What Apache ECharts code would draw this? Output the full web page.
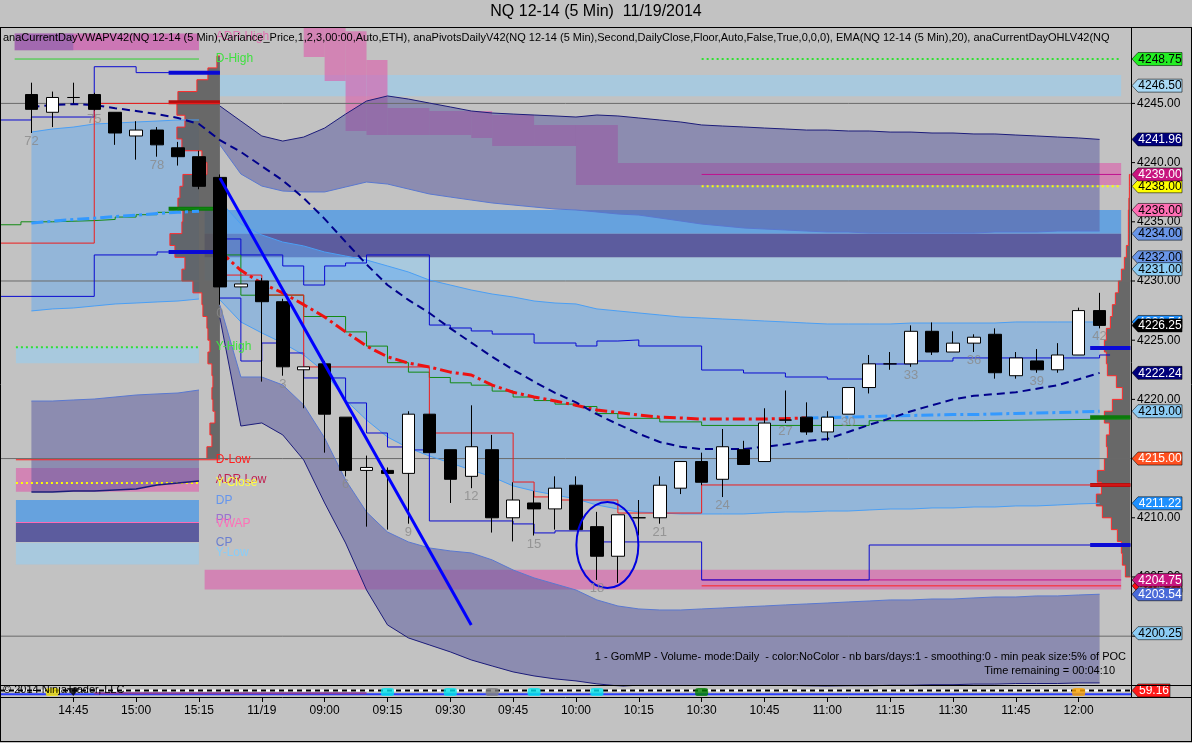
<!DOCTYPE html>
<html>
<head>
<meta charset="utf-8">
<script src="https://cdn.jsdelivr.net/npm/echarts@6/dist/echarts.min.js"></script>
<style>
html,body{margin:0;padding:0;background:#c2c2c2;overflow:hidden}
#chart{width:1192px;height:743px}
</style>
</head>
<body>
<div id="chart"></div>
<script>
// ================= DATA =================
const categories = ['14:30','14:35','14:40','14:45','14:50','14:55','15:00','15:05','15:10','15:15',
 '08:35','08:40','08:45','08:50','08:55',
 '09:00','09:05','09:10','09:15','09:20','09:25','09:30','09:35','09:40','09:45','09:50','09:55',
 '10:00','10:05','10:10','10:15','10:20','10:25','10:30','10:35','10:40','10:45','10:50','10:55',
 '11:00','11:05','11:10','11:15','11:20','11:25','11:30','11:35','11:40','11:45','11:50','11:55',
 '12:00','12:05','12:10'];
const tickCategories = ['14:45','15:00','15:15','08:45','09:00','09:15','09:30','09:45','10:00','10:15','10:30','10:45','11:00','11:15','11:30','11:45','12:00'];
const tickTexts      = ['14:45','15:00','15:15','11/19','09:00','09:15','09:30','09:45','10:00','10:15','10:30','10:45','11:00','11:15','11:30','11:45','12:00'];

// [open, close, low, high]  previous session bars 72..80
const prevCandles = [
 [4245.75,4244.50,4242.50,4246.75],[4244.25,4245.50,4243.00,4246.00],[4245.50,4245.50,4245.00,4246.75],
 [4245.75,4244.50,4244.40,4245.90],[4244.25,4242.50,4241.50,4244.25],[4242.25,4242.75,4240.25,4243.50],
 [4242.75,4241.50,4240.50,4243.00],[4241.25,4240.50,4239.75,4241.75],[4240.50,4238.00,4237.75,4241.00]
];
// today bars 0..42
const todayCandles = [
 [4238.75,4229.50,4228.00,4239.00],[4229.50,4229.75,4229.50,4229.75],[4230.00,4228.25,4221.50,4230.25],
 [4228.25,4222.75,4222.00,4228.50],[4222.50,4222.75,4219.25,4222.75],[4223.00,4218.75,4215.50,4223.25],
 [4218.50,4214.00,4213.50,4218.50],[4214.00,4214.25,4209.25,4215.25],[4214.00,4213.75,4209.00,4214.25],
 [4213.75,4218.75,4209.50,4219.00],[4218.75,4215.50,4215.50,4218.75],[4215.75,4213.25,4211.25,4215.75],
 [4213.50,4216.00,4212.50,4219.50],[4215.75,4210.00,4208.75,4217.00],[4210.00,4211.50,4208.00,4213.00],
 [4211.25,4210.75,4208.50,4212.25],[4210.75,4212.50,4209.00,4213.50],[4212.75,4209.00,4209.00,4213.50],
 [4209.25,4206.75,4204.75,4210.50],[4206.75,4210.25,4204.50,4210.25],[4210.00,4210.00,4208.50,4211.50],
 [4210.00,4212.75,4209.50,4213.50],[4212.50,4214.75,4212.00,4214.75],[4214.75,4213.00,4212.75,4215.50],
 [4213.25,4216.00,4211.75,4217.50],[4215.75,4214.50,4214.50,4216.50],[4214.75,4218.00,4214.75,4219.25],
 [4218.25,4218.25,4218.00,4220.75],[4218.50,4217.25,4217.00,4219.75],[4217.25,4218.50,4216.50,4219.00],
 [4218.75,4221.00,4218.75,4221.00],[4221.00,4223.00,4220.50,4223.75],[4223.00,4223.00,4222.50,4224.00],
 [4223.00,4225.75,4222.75,4226.25],[4225.75,4224.00,4223.75,4226.50],[4224.00,4224.75,4224.00,4225.75],
 [4224.75,4225.25,4224.00,4225.50],[4225.50,4222.25,4221.75,4226.00],[4222.00,4223.50,4221.75,4224.00],
 [4223.25,4222.50,4222.25,4224.25],[4222.50,4223.75,4222.25,4224.75],[4223.75,4227.50,4223.75,4227.75],
 [4227.50,4226.25,4226.00,4229.00]
];
const barNumberCats = [1,4,7,10,13,16,19,22,25,28,31,34,37,40,43,46,49,52];
const barNumberTexts = ['72','75','78','0','3','6','9','12','15','18','21','24','27','30','33','36','39','42'];

// EMA(20)
const emaPrev = [4244.70,4244.86,4244.95,4244.86,4244.60,4244.36,4244.10,4243.77,4243.26];
const emaToday = [4241.90,4240.90,4239.70,4238.50,4237.00,4235.25,4233.30,4231.40,4229.66,4228.40,
 4227.30,4226.00,4224.80,4223.60,4222.50,4221.50,4220.55,4219.75,4218.75,4217.90,
 4217.10,4216.40,4216.00,4215.80,4215.80,4215.80,4216.00,4216.20,4216.50,4216.65,
 4217.25,4217.85,4218.40,4219.00,4219.50,4220.00,4220.30,4220.45,4220.60,4220.90,
 4221.20,4221.70,4222.24];
// VWAP
const vwapPrev = [4234.90,4235.05,4235.20,4235.30,4235.45,4235.55,4235.70,4235.80,4235.90];
const vwapToday = [4232.50,4230.90,4229.80,4229.00,4228.00,4226.96,4225.70,4224.50,4223.60,4223.07,
 4222.74,4222.30,4222.06,4221.20,4220.60,4220.20,4219.87,4219.50,4219.10,4218.90,
 4218.68,4218.50,4218.43,4218.34,4218.34,4218.34,4218.34,4218.38,4218.43,4218.47,
 4218.50,4218.55,4218.60,4218.64,4218.68,4218.72,4218.72,4218.77,4218.81,4218.85,
 4218.89,4218.94,4219.00];
const vwapTurnBar = 28;
// VWAP deviation bands (today)
const upper3 = [4244.78,4243.51,4242.25,4241.82,4242.16,4242.92,4244.10,4245.20,4245.63,4245.37,
 4245.03,4244.70,4244.36,4244.19,4244.10,4244.02,4243.94,4243.85,4244.02,4243.94,
 4243.77,4243.60,4243.43,4243.18,4243.09,4243.01,4242.92,4242.84,4242.75,4242.75,
 4242.67,4242.67,4242.58,4242.58,4242.50,4242.50,4242.42,4242.42,4242.33,4242.25,
 4242.16,4242.08,4241.96];
const upper2 = [4241.49,4239.04,4238.02,4237.60,4237.52,4237.52,4237.94,4238.36,4238.19,4237.77,
 4237.35,4237.09,4236.84,4236.59,4236.42,4236.25,4236.08,4236.00,4235.83,4235.66,
 4235.57,4235.32,4235.07,4234.81,4234.65,4234.48,4234.39,4234.31,4234.22,4234.14,
 4234.14,4234.05,4234.05,4234.05,4234.05,4234.05,4234.05,4234.14,4234.14,4234.14,
 4234.22,4234.22,4234.22];
const upper1 = [4236.76,4234.81,4233.89,4233.29,4232.96,4232.45,4232.11,4231.77,4231.27,4230.76,
 4230.08,4229.66,4229.24,4228.90,4228.65,4228.31,4228.14,4228.06,4227.64,4227.47,
 4227.30,4227.13,4226.96,4226.88,4226.79,4226.71,4226.62,4226.54,4226.45,4226.37,
 4226.37,4226.37,4226.37,4226.45,4226.45,4226.45,4226.45,4226.45,4226.54,4226.54,
 4226.54,4226.54,4226.54];
const lower1 = [4228.40,4226.54,4225.61,4224.76,4223.75,4222.31,4219.95,4218.26,4216.82,4215.90,
 4215.22,4214.63,4214.04,4213.45,4212.69,4212.26,4211.93,4211.59,4211.08,4210.74,
 4210.49,4210.41,4210.32,4210.32,4210.32,4210.32,4210.41,4210.49,4210.49,4210.57,
 4210.57,4210.66,4210.74,4210.74,4210.83,4210.83,4210.91,4210.91,4211.00,4211.00,
 4211.08,4211.17,4211.22];
const lower2 = [4227.97,4221.89,4221.89,4221.22,4219.53,4216.74,4213.19,4210.49,4208.80,4207.96,
 4207.45,4207.20,4207.03,4206.44,4205.59,4204.92,4204.41,4203.90,4203.06,4202.55,
 4202.30,4202.21,4202.21,4202.30,4202.38,4202.47,4202.55,4202.64,4202.72,4202.80,
 4202.89,4202.97,4203.06,4203.06,4203.14,4203.14,4203.23,4203.31,4203.31,4203.40,
 4203.40,4203.48,4203.54];
const lower3 = [4226.88,4217.75,4218.01,4217.00,4214.88,4211.25,4207.87,4203.90,4200.95,4199.85,
 4199.26,4198.67,4197.99,4197.48,4196.98,4196.64,4196.39,4196.22,4195.97,4195.80,
 4195.60,4195.55,4195.50,4195.50,4195.50,4195.55,4195.60,4195.65,4195.70,4195.75,
 4195.80,4195.80,4195.85,4195.85,4195.90,4195.90,4195.95,4195.95,4196.00,4196.00,
 4196.00,4196.05,4196.05];
// previous session bands
const prevUpper1 = [4242.58,4242.84,4243.00,4243.26,4243.34,4243.43,4243.51,4243.60,4243.60];
const prevLower1 = [4227.47,4227.64,4227.72,4227.89,4228.06,4228.14,4228.23,4228.31,4228.48];
const prevLower2 = [4219.86,4219.86,4219.95,4220.03,4220.20,4220.37,4220.46,4220.54,4220.79];
const prevLower3 = [4212.18,4212.18,4212.26,4212.26,4212.35,4212.43,4212.77,4212.94,4213.11];

// step lines  [bar position, price]
const greenPrevSteps = [[-0.5,4234.75],[0.5,4235.0],[2,4235.1],[4,4235.2],[5,4235.4],[6,4235.6],[7,4235.8],[8,4236.1],[10,4236.1]];
const greenTodaySteps = [[10,4232.2],[11,4228.8],[14,4227.0],[16,4225.7],[17,4224.5],[18,4223.1],[19,4222.3],[20,4221.85],[21,4221.4],[22,4221.2],[23,4220.7],[24,4220.2],[25,4219.9],[26,4219.6],[27,4219.4],[28,4218.8],[29,4218.4],[31,4218.1],[33,4217.8],[41,4218.2],[46,4218.35],[53.47,4218.35]];
const navyUpperToday = [[10,4233.55],[11,4232.2],[13,4231.27],[14,4229.66],[15,4231.27],[16,4231.52],[17,4232.2],[20,4226.28],[21,4226.03],[22,4225.78],[23,4225.52],[25,4224.76],[27,4224.51],[28,4224.93],[29,4225.02],[30,4224.51],[33,4222.48],[35,4222.23],[37,4221.89],[39,4221.72],[41,4222.99],[43,4223.24],[45,4223.5],[52,4223.75],[52.5,4223.75]];
const navyLowerToday = [[10,4228.56],[11,4223.24],[12,4224.76],[13,4223.92],[14,4221.81],[16,4219.7],[17,4217.16],[18,4215.98],[19,4215.73],[20,4209.73],[24,4209.48],[25,4208.72],[26,4208.89],[28,4207.96],[33,4204.75],[41,4207.7],[53.47,4207.7]];
const redToday = [[10,4230.5],[12,4228.82],[14,4222.74],[20,4217.16],[24,4213.02],[25,4211.76],[26,4211.5],[29,4210.4],[33,4212.77],[53.47,4212.77]];
const navyHighPrev = [[-0.5,4243.6],[1,4243.85],[4,4248.1],[6,4247.6],[10,4247.6]];
const navyLowPrev = [[-0.5,4228.7],[4,4232.2],[7,4232.45],[10,4232.45]];
const redPrev = [[-0.5,4233.2],[4,4245.0],[10,4245.0]];
// value-area markers [x0, x1, price]
const thickNavy = [[7.55,10,4247.6],[7.55,10,4232.45],[51.55,53.47,4224.34],[51.55,53.47,4207.7]];
const thickRed = [[7.55,10,4245.1],[51.55,53.47,4212.77]];
const thickGreen = [[7.55,10,4236.1],[51.55,53.47,4218.5]];

// pivot zones [x0, x1, top, bottom]
const lightBlueZones = [[10,53.03,4247.4,4245.6],[9.27,53.03,4232.0,4230.0],[0.26,9.0,4224.4,4223.05],[0.26,9.0,4207.9,4206.05]];
const blueZones = [[9.27,53.03,4236.0,4234.0],[0.26,9.0,4211.5,4209.65]];
const slateZones = [[9.27,53.03,4234.0,4232.0],[0.26,9.0,4209.56,4207.96]];
const pinkZones = [[9.27,53.03,4205.6,4203.95],[0.26,9.0,4214.2,4212.2]];
// previous-session ADR high zone: x positions, top and bottom prices
const prevAdrX = [0.2, 9.0];
const prevAdrTop = [4250.9, 4250.9];
const prevAdrBottom = [4249.5, 4249.5];
const prevAdrShadeX = [0.2, 3.0];
const adrHighZone = [[14,15,4251.6,4248.92],[15,16,4251.6,4246.89],[16,17,4251.1,4242.67],[17,18,4248.67,4242.33],[18,20,4244.61,4242.33],[20,22,4244.36,4242.33],[22,23,4244.36,4242.08],[23,25,4244.02,4241.4],[25,27,4243.18,4241.4],[27,29,4243.18,4238.1],[29,53.03,4239.97,4238.1]];
// pivot lines [x0, x1, price]
const greenSolidLines = [[0.2,9.0,4248.75]];
const greenDotLines = [[33,53.03,4248.75],[0.26,9.0,4224.4]];
const magentaLines = [[33,53.03,4239.0],[33,53.03,4204.75]];
const yellowDotLines = [[33,53.03,4238.0],[0.26,9.0,4212.94]];
const redLines = [[33,53.03,4204.25],[0.26,10.0,4214.9]];
const pinkLines = [[0.26,9.0,4209.6]];
const gridLevels = [4245,4230,4215,4200];

const pivotTexts = ['ADR High','D-High','Y-High','D-Low','ADR Low','Y-Close','DP','PP','VWAP','CP','Y-Low'];
const pivotPrices = [4250.6,4248.75,4224.43,4214.88,4213.2,4212.94,4211.42,4209.8,4209.46,4207.87,4207.03];
const pivotColors = ['#e070b0','#40e040','#40e040','#ff2020','#c02050','#ffff40','#6495ed','#9a70d0','#ff70b8','#6a7fd0','#87cefa'];

// volume profiles (price row centre, volume)
const prevProfilePrices = [4248.5,4247.5,4246.5,4245.5,4244.5,4243.5,4242.5,4241.5,4240.5,4239.5,4238.5,4237.5,4236.5,4235.5,4234.5,4233.5,4232.5,4231.5,4230.5,4229.5,4228.5,4227.5,4226.5,4225.5,4224.5,4223.5,4222.5,4221.5,4220.5,4219.5,4218.5,4217.5,4216.5,4215.5];
const prevProfileVol = [3,12,23,42,43,35,43,38,18,13,37,40,42,37,38,50,45,35,38,27,18,17,13,12,10,12,8,7,8,7,5,10,8,13];
const todayProfilePrices = [4238.5,4237.5,4236.5,4235.5,4234.5,4233.5,4232.5,4231.5,4230.5,4229.5,4228.5,4227.5,4226.5,4225.5,4224.5,4223.5,4222.5,4221.5,4220.5,4219.5,4218.5,4217.5,4216.5,4215.5,4214.5,4213.5,4212.5,4211.5,4210.5,4209.5,4208.5,4207.5,4206.5,4205.5];
const todayProfileVol = [1,1,1.5,2,2,2,4,6,9,12,15,18,20,24,26,24,23,14,8,18,26,21,24,23,26,33,29,34,28,19,13,9,8,5];

// drawing objects
const trendLine = [[10,4238.7],[22,4200.95]];
const ellipseCenter = [28.5,4207.7];
const ellipseRadius = [1.48,3.63];

// right axis
const priceTicks = [4200,4205,4210,4215,4220,4225,4230,4235,4240,4245];
const tagPrices = [4248.75,4246.50,4241.96,4238.00,4239.00,4236.00,4234.00,4232.00,4231.00,4226.54,4226.25,4222.24,4219.00,4215.00,4211.22,4204.25,4203.54,4204.75,4200.25];
const tagFills = ['#22ee22','#a8d8f4','#00007a','#ffff00','#c8157f','#ff6eb4','#6a96e8','#6a96e8','#8cccf4','#1e90ff','#000000','#00007a','#8cccf4','#ff5020','#1e90ff','#ff1010','#4a6ad8','#c8157f','#8cccf4'];
const tagTextColors = ['#000','#000','#fff','#000','#fff','#000','#000','#000','#000','#fff','#fff','#fff','#000','#fff','#fff','#fff','#fff','#fff','#000'];

// lower indicator panel
const indicatorValue = 59.16;
const indicatorBase = 25;
const markerCats = [2,3,18,21,23,25,28,33,51];
const markerColors = ['#ffee00','#000000','#00e5ee','#00e5ee','#808080','#00e5ee','#00e5ee','#008000','#ffa500'];

// ================= BUILD =================
const FONT = '"Liberation Sans", Arial, sans-serif';
const NCAT = categories.length, PREV0 = 1, TODAY0 = 10;
function padPrev(arr){ const o = new Array(NCAT).fill(null); arr.forEach((v,i)=>{o[PREV0+i]=v;}); return o; }
function padToday(arr, from, to){ const o = new Array(NCAT).fill(null); for(let i=from;i<=to;i++) o[TODAY0+i]=arr[i]; return o; }
const prevX = prevCandles.map((_,i)=>PREV0+i);
const todayX = todayCandles.map((_,i)=>TODAY0+i);

const candleData = categories.map((c,i)=>{
  if(i>=PREV0 && i<PREV0+prevCandles.length) return prevCandles[i-PREV0];
  if(i>=TODAY0 && i<TODAY0+todayCandles.length) return todayCandles[i-TODAY0];
  return '-';
});
const allLows = categories.map((c,i)=> Array.isArray(candleData[i]) ? candleData[i][2] : null);

function custom(opts, render){
  return Object.assign({type:'custom', xAxisIndex:1, yAxisIndex:0, silent:true, clip:true, data:[[0,4220]], renderItem:render}, opts);
}
function zoneSeries(rects, fill, z){
  return custom({z, clip:false}, (p, api)=>({type:'group', children: rects.map(r=>{
    const a = api.coord([r[0], Math.min(r[2], 4251.37)]);
    const b = api.coord([r[1], r[3]]);
    return {type:'rect', shape:{x:Math.min(a[0],b[0]), y:Math.min(a[1],b[1]), width:Math.abs(b[0]-a[0]), height:Math.abs(b[1]-a[1])}, style:{fill}};
  })}));
}
function segSeries(segs, stroke, width, dash, z){
  return custom({z}, (p, api)=>({type:'group', children: segs.map(s=>{
    const a = api.coord([s[0], s[2]]);
    const b = api.coord([s[1], s[2]]);
    return {type:'line', shape:{x1:a[0], y1:a[1], x2:b[0], y2:b[1]}, style:{stroke, lineWidth:width, lineDash:dash||null}};
  })}));
}
function bandSeries(xs, up, lo, fill, z){
  return custom({z}, (p, api)=>{
    const pts = [];
    for(let i=0;i<xs.length;i++) pts.push(api.coord([xs[i], up[i]]));
    for(let i=xs.length-1;i>=0;i--) pts.push(api.coord([xs[i], lo[i]]));
    return {type:'polygon', shape:{points:pts}, style:{fill}};
  });
}
function lineCat(data, color, width, type, z){
  return {type:'line', xAxisIndex:0, yAxisIndex:0, data, showSymbol:false, symbol:'none', silent:true, z,
    connectNulls:false, lineStyle:{color, width, type:type||'solid'}, animation:false};
}
function stepLine(points, color, width, z){
  return {type:'line', xAxisIndex:1, yAxisIndex:0, data:points, step:'end', showSymbol:false, symbol:'none', silent:true, z,
    lineStyle:{color, width}};
}
function profileSeries(prices, vols, baseX, pxPerVol, z){
  return custom({z, clip:false}, (p, api)=>{
    const bx = api.coord([baseX, prices[0]])[0];
    const edge = [];
    prices.forEach((pr,i)=>{
      const yt = api.coord([baseX, pr+0.5])[1], yb = api.coord([baseX, pr-0.5])[1];
      const x = bx - vols[i]*pxPerVol;
      edge.push([x,yt],[x,yb]);
    });
    const poly = [[bx, edge[0][1]]].concat(edge, [[bx, edge[edge.length-1][1]]]);
    return {type:'group', children:[
      {type:'polygon', shape:{points:poly}, style:{fill:'rgba(88,88,88,0.85)'}},
      {type:'polyline', shape:{points:poly}, style:{stroke:'#ff2a2a', lineWidth:1, fill:'none'}}
    ]};
  });
}

const C_LIGHT = 'rgba(150,205,240,0.6)';
const C_BLUE = 'rgba(40,140,240,0.6)';
const C_SLATE = 'rgba(70,70,150,0.82)';
const C_PINK = 'rgba(220,90,170,0.6)';
const C_SIGMA1 = 'rgba(100,170,240,0.5)';
const C_SIGMA3 = 'rgba(90,90,160,0.52)';

const series = [];
// zones
series.push(zoneSeries(lightBlueZones, C_LIGHT, 1));
series.push(zoneSeries(blueZones, C_BLUE, 1));
series.push(zoneSeries(slateZones, C_SLATE, 1));
series.push(zoneSeries(pinkZones, C_PINK, 1));
series.push(zoneSeries(adrHighZone, C_PINK, 1));
series.push(bandSeries(prevAdrX, prevAdrTop, prevAdrBottom, 'rgba(205,110,180,0.9)', 2));
series.push(bandSeries(prevAdrShadeX, prevAdrTop, prevAdrBottom, 'rgba(110,90,170,0.45)', 2));
// bands
series.push(bandSeries(todayX, upper1, lower1, C_SIGMA1, 2));
series.push(bandSeries(todayX, upper3, upper2, C_SIGMA3, 2));
series.push(bandSeries(todayX, lower2, lower3, C_SIGMA3, 2));
series.push(bandSeries(prevX, prevUpper1, prevLower1, C_SIGMA1, 2));
series.push(bandSeries(prevX, prevLower2, prevLower3, C_SIGMA3, 2));
// profiles
series.push(profileSeries(prevProfilePrices, prevProfileVol, 10, 1, 3));
series.push(profileSeries(todayProfilePrices, todayProfileVol, 53.47, 1, 3));
// grid levels
series.push(segSeries(gridLevels.map(v=>[-0.5,53.5,v]), '#6a6a6a', 1, null, 4));
// pivot lines
series.push(segSeries(greenSolidLines, '#30d030', 1, null, 4));
series.push(segSeries(greenDotLines, '#30e030', 2, [2,3], 4));
series.push(segSeries(magentaLines, '#c0108f', 1, null, 4));
series.push(segSeries(yellowDotLines, '#ffff00', 2, [2,3], 4));
series.push(segSeries(redLines, '#ff2020', 1, null, 4));
series.push(segSeries(pinkLines, '#ff69b4', 1, null, 4));
// band edges
series.push(lineCat(padToday(upper3,0,42), '#1c1c7a', 1, 'solid', 4));
series.push(lineCat(padToday(upper2,0,42), '#5a78d0', 1, 'solid', 4));
series.push(lineCat(padToday(upper1,0,42), '#4a9ff5', 1, 'solid', 4));
series.push(lineCat(padToday(lower1,0,42), '#4a9ff5', 1, 'solid', 4));
series.push(lineCat(padToday(lower2,0,42), '#5a78d0', 1, 'solid', 4));
series.push(lineCat(padToday(lower3,0,42), '#1c1c7a', 1, 'solid', 4));
series.push(lineCat(padPrev(prevUpper1), '#4a9ff5', 1, 'solid', 4));
series.push(lineCat(padPrev(prevLower1), '#4a9ff5', 1, 'solid', 4));
series.push(lineCat(padPrev(prevLower2), '#5a78d0', 1, 'solid', 4));
series.push(lineCat(padPrev(prevLower3), '#1c1c7a', 1.5, 'solid', 4));
// step lines
series.push(stepLine(greenPrevSteps, '#138a13', 1, 5));
series.push(stepLine(greenTodaySteps, '#138a13', 1, 5));
series.push(stepLine(navyUpperToday, '#0a0ad0', 1, 5));
series.push(stepLine(navyLowerToday, '#0a0ad0', 1, 5));
series.push(stepLine(redToday, '#ee1c1c', 1, 5));
series.push(stepLine(navyHighPrev, '#0a0ad0', 1, 5));
series.push(stepLine(navyLowPrev, '#0a0ad0', 1, 5));
series.push(stepLine(redPrev, '#ee1c1c', 1, 5));
series.push(segSeries(thickNavy, '#0a0ad8', 4, null, 5));
series.push(segSeries(thickRed, '#b40f0f', 4, null, 5));
series.push(segSeries(thickGreen, '#0a7a0a', 4, null, 5));
// VWAP & EMA
series.push(lineCat(padPrev(vwapPrev), '#3399ff', 3, [12,4,3,4], 6));
series.push(lineCat(padToday(vwapToday,0,vwapTurnBar), '#ee1111', 3, [12,4,3,4], 6));
series.push(lineCat(padToday(vwapToday,vwapTurnBar,42), '#3399ff', 3, [12,4,3,4], 6));
series.push(lineCat(padPrev(emaPrev).map((v,i)=> v!==null ? v : (i>=TODAY0 && i<TODAY0+emaToday.length ? emaToday[i-TODAY0] : null)), '#00008b', 2, [8,5], 6));
// candles
series.push({type:'candlestick', xAxisIndex:0, yAxisIndex:0, data:candleData, barWidth:13, z:7, silent:true,
  itemStyle:{color:'#ffffff', color0:'#000000', borderColor:'#000000', borderColor0:'#000000', borderWidth:1}});
// bar numbers
series.push({type:'scatter', xAxisIndex:0, yAxisIndex:0, z:8, silent:true, symbolSize:0,
  data: barNumberCats.map((c,i)=>({value:[c, allLows[c]], name:barNumberTexts[i]})),
  label:{show:true, position:'bottom', distance:2, formatter:'{b}', color:'#8a8a8a', fontSize:13, fontFamily:FONT}});
// trend line
series.push({type:'line', xAxisIndex:1, yAxisIndex:0, data:trendLine, showSymbol:false, symbol:'none', silent:true, z:8,
  lineStyle:{color:'#0000ff', width:3}});
// ellipse
series.push(custom({z:8}, (p, api)=>{
  const c = api.coord(ellipseCenter);
  const e = api.coord([ellipseCenter[0]+ellipseRadius[0], ellipseCenter[1]-ellipseRadius[1]]);
  const rx = Math.abs(e[0]-c[0]), ry = Math.abs(e[1]-c[1]);
  const d = `M ${c[0]-rx} ${c[1]} A ${rx} ${ry} 0 1 0 ${c[0]+rx} ${c[1]} A ${rx} ${ry} 0 1 0 ${c[0]-rx} ${c[1]} Z`;
  return {type:'path', shape:{pathData:d}, style:{stroke:'#0000e0', lineWidth:2, fill:'none'}};
}));
// pivot labels
series.push(custom({z:8, clip:false}, (p, api)=>({type:'group', children: pivotTexts.map((t,i)=>{
  const pt = api.coord([9.8, pivotPrices[i]]);
  return {type:'text', x:pt[0], y:pt[1], style:{text:t, fill:pivotColors[i], font:'12px '+FONT, verticalAlign:'middle', align:'left'}};
})})));
// price axis ticks + labels
series.push(custom({z:9, clip:false}, (p, api)=>({type:'group', children: priceTicks.flatMap(v=>{
  const pt = api.coord([53.5, v]);
  return [
    {type:'line', shape:{x1:pt[0], y1:pt[1], x2:pt[0]+4, y2:pt[1]}, style:{stroke:'#000', lineWidth:1}},
    {type:'text', x:pt[0]+6, y:pt[1], style:{text:v.toFixed(2), fill:'#000', font:'12px '+FONT, verticalAlign:'middle', align:'left'}}
  ];
})})));
// price tags
series.push(custom({z:10, clip:false}, (p, api)=>({type:'group', children: tagPrices.flatMap((v,i)=>{
  const pt = api.coord([53.5, v]); const x = pt[0]+1, y = pt[1];
  return [
    {type:'polygon', shape:{points:[[x,y],[x+6,y-6.5],[x+50,y-6.5],[x+50,y+6.5],[x+6,y+6.5]]}, style:{fill:tagFills[i], stroke:'rgba(0,0,0,0.55)', lineWidth:1}},
    {type:'text', x:x+28, y:y+0.5, style:{text:v.toFixed(2), fill:tagTextColors[i], font:'12px '+FONT, align:'center', verticalAlign:'middle'}}
  ];
})})));
// indicator panel
series.push({type:'line', xAxisIndex:3, yAxisIndex:1, data:[[-0.5,indicatorBase],[53.5,indicatorBase]], showSymbol:false, symbol:'none', silent:true, z:3, lineStyle:{color:'#2a3cff', width:2}});
series.push({type:'line', xAxisIndex:3, yAxisIndex:1, data:[[4,indicatorBase+8],[17,indicatorBase+8]], showSymbol:false, symbol:'none', silent:true, z:3, lineStyle:{color:'#8a3a9a', width:2}});
series.push({type:'line', xAxisIndex:3, yAxisIndex:1, data:[[-0.5,indicatorValue],[53.5,indicatorValue]], showSymbol:false, symbol:'none', silent:true, z:3, lineStyle:{color:'#ffffff', width:2}});
series.push({type:'line', xAxisIndex:3, yAxisIndex:1, data:[[-0.5,indicatorValue],[53.5,indicatorValue]], showSymbol:false, symbol:'none', silent:true, z:4, lineStyle:{color:'#000000', width:2, type:[5,4]}});
series.push({type:'scatter', xAxisIndex:2, yAxisIndex:1, z:5, silent:true,
  data: markerCats.map((c,i)=>({value:[c, 45], itemStyle:{color:markerColors[i]}, symbol: i===1 ? 'triangle' : 'roundRect', symbolRotate: i===1 ? 180 : 0})),
  symbolSize:[13,8]});
series.push({type:'custom', xAxisIndex:3, yAxisIndex:1, z:10, clip:false, silent:true, data:[[0,0]], renderItem:(p, api)=>{
  const pt = api.coord([53.5, indicatorValue]); const x = pt[0]+1, y = pt[1];
  return {type:'group', children:[
    {type:'polygon', shape:{points:[[x,y],[x+6,y-6.5],[x+38,y-6.5],[x+38,y+6.5],[x+6,y+6.5]]}, style:{fill:'#ff1a1a', stroke:'rgba(0,0,0,0.5)', lineWidth:1}},
    {type:'text', x:x+22, y:y+0.5, style:{text:indicatorValue.toFixed(2), fill:'#fff', font:'12px '+FONT, align:'center', verticalAlign:'middle'}}
  ]};
}});

const tickSet = new Set(tickCategories);
const tickFn = (idx, val) => tickSet.has(val);

const option = {
  animation:false,
  backgroundColor:'#c2c2c2',
  grid:[{left:-2, right:61, top:28, bottom:57}, {left:-2, right:61, top:686, height:11}],
  xAxis:[
    {type:'category', gridIndex:0, data:categories, boundaryGap:true, show:false},
    {type:'value', gridIndex:0, min:-0.5, max:53.5, show:false},
    {type:'category', gridIndex:1, data:categories, boundaryGap:true,
      axisLine:{show:true, lineStyle:{color:'#000', width:1}},
      axisTick:{show:true, interval:tickFn, alignWithLabel:true, length:5, lineStyle:{color:'#000'}},
      axisLabel:{interval:tickFn, formatter:(v)=>{const k=tickCategories.indexOf(v); return k>=0?tickTexts[k]:'';}, color:'#000', fontSize:12, fontFamily:FONT, margin:8},
      splitLine:{show:false}},
    {type:'value', gridIndex:1, min:-0.5, max:53.5, show:false}
  ],
  yAxis:[
    {type:'value', gridIndex:0, min:4195.79, max:4251.37, show:false},
    {type:'value', gridIndex:1, min:0, max:100, show:false}
  ],
  series,
  graphic:[
    {type:'text', left:'center', top:4, z:100, style:{text:'NQ 12-14 (5 Min)  11/19/2014', font:'16px '+FONT, fill:'#000'}},
    {type:'text', x:3, y:32, z:100, style:{text:'anaCurrentDayVWAPV42(NQ 12-14 (5 Min),Variance_Price,1,2,3,00:00,Auto,ETH), anaPivotsDailyV42(NQ 12-14 (5 Min),Second,DailyClose,Floor,Auto,False,True,0,0,0), EMA(NQ 12-14 (5 Min),20), anaCurrentDayOHLV42(NQ', font:'11px '+FONT, fill:'#000', verticalAlign:'top'}},
    {type:'text', x:1126, y:657, z:100, style:{text:'1 - GomMP - Volume- mode:Daily  - color:NoColor - nb bars/days:1 - smoothing:0 - min peak size:5% of POC', font:'11px '+FONT, fill:'#000', align:'right', verticalAlign:'middle'}},
    {type:'text', x:1115, y:671, z:100, style:{text:'Time remaining = 00:04:10', font:'11px '+FONT, fill:'#000', align:'right', verticalAlign:'middle'}},
    {type:'text', x:3, y:690, z:100, style:{text:'\u00a9 2014 NinjaTrader, LLC', font:'11px '+FONT, fill:'#000', verticalAlign:'middle'}},
    {type:'line', z:100, shape:{x1:0, y1:27.5, x2:1192, y2:27.5}, style:{stroke:'#000', lineWidth:1}},
    {type:'line', z:100, shape:{x1:0, y1:685.5, x2:1192, y2:685.5}, style:{stroke:'#000', lineWidth:1}},
    {type:'line', z:100, shape:{x1:1131, y1:697.5, x2:1192, y2:697.5}, style:{stroke:'#000', lineWidth:1}},
    {type:'line', z:100, shape:{x1:1131.5, y1:27, x2:1131.5, y2:698}, style:{stroke:'#000', lineWidth:1}},
    {type:'line', z:100, shape:{x1:0.5, y1:27, x2:0.5, y2:742}, style:{stroke:'#000', lineWidth:1}},
    {type:'line', z:100, shape:{x1:0, y1:741.5, x2:1192, y2:741.5}, style:{stroke:'#000', lineWidth:1}},
    {type:'line', z:100, shape:{x1:1191.5, y1:27, x2:1191.5, y2:742}, style:{stroke:'#000', lineWidth:1}}
  ]
};
const chart = echarts.init(document.getElementById('chart'), null, {renderer:'canvas'});
chart.setOption(option);
</script>
</body>
</html>
